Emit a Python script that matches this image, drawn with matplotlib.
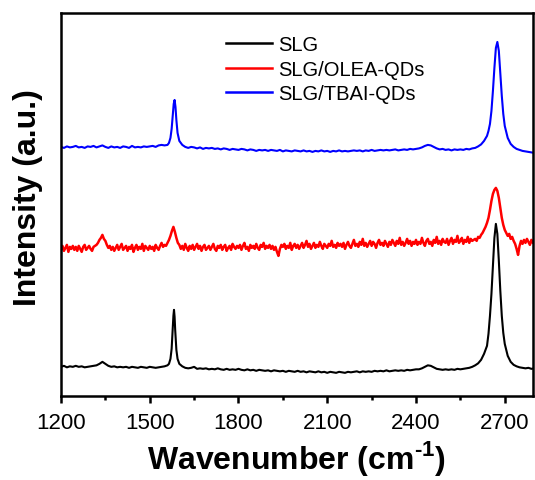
import matplotlib
matplotlib.use("Agg")
import matplotlib.pyplot as plt
from matplotlib.ticker import MultipleLocator


# ============================================================
# Spectra (offset-stacked, arbitrary units)
# ============================================================

SERIES_LABELS = ["SLG", "SLG/OLEA-QDs", "SLG/TBAI-QDs"]
SERIES_COLORS = ["black", "red", "blue"]
SERIES_WIDTHS = [1.5, 1.8, 1.5]

# --- SLG (black) ---
SLG_X = (list(range(1200, 1561, 10))
         + [1565, 1570, 1574, 1578, 1580, 1582, 1584, 1586, 1590, 1594]
         + list(range(1600, 2641, 10))
         + [2645, 2650, 2655, 2660, 2665, 2670, 2675, 2680, 2685, 2690, 2695]
         + list(range(2700, 2801, 10)))
SLG_Y = [
    # 1200 - 1560
    29, 30, 28.5, 29.5, 29, 30, 29, 29.5, 28.5, 29,
    29.5, 30, 30.5, 32, 34, 32, 30, 29, 29.5, 28.5,
    29, 28.5, 29, 28, 29, 28.5, 28, 29, 28.5, 28,
    29, 28.5, 28, 28.5, 29, 29.5, 30.5,
    # G band
    32, 37, 47, 68, 80, 86, 79, 66, 46, 37,
    # 1600 - 2640
    32, 29.5, 28, 27.5, 28, 29, 27, 27.5, 27, 27.5,
    26.5, 27, 26.5, 27.5, 26.5, 26, 27, 26, 26.5, 26,
    27, 26, 25.5, 26.5, 25.5, 26, 25, 26, 25.5, 25,
    25.5, 24.5, 25.5, 25, 24.5, 25, 24, 25, 24.5, 24,
    25, 24, 24.5, 23.5, 24.5, 24, 23.5, 24.5, 23.5, 24,
    23, 24, 23.5, 23, 24, 23.5, 23, 24, 23.5, 24,
    24.5, 23.5, 24.5, 24, 24.5, 24, 25, 24.5, 25, 24.5,
    25.5, 24.5, 25, 25.5, 25, 25.5, 25, 26, 25.5, 26,
    26.5, 26.5, 27.5, 29, 30.5, 30, 28.5, 27, 26.5, 26,
    26.5, 26, 26.5, 26, 27, 26.5, 27, 27.5, 28, 29,
    30.5, 32.5, 36, 42, 50,
    # 2D band
    62, 80, 102, 130, 158, 172, 162, 135, 105, 80, 63,
    # 2700 - 2800
    52, 40, 34, 31, 29.5, 28.5, 28, 27.5, 28, 27, 27.5,
]

# --- SLG/OLEA-QDs (red), one value every 5 cm-1, rows of 50 cm-1 ---
OLEA_X = list(range(1200, 2801, 5))
OLEA_Y = [
    146, 150, 145, 148, 151, 144, 149, 147, 150, 146,  # 1200
    149, 145, 150, 147, 144, 149, 151, 146, 148, 150,  # 1250
    147, 145, 149, 150, 151, 153, 156, 158, 161, 157,  # 1300
    155, 151, 148, 150, 146, 149, 145, 148, 151, 146,  # 1350
    149, 152, 146, 148, 150, 145, 149, 147, 151, 144,  # 1400
    148, 151, 146, 149, 147, 152, 145, 150, 148, 146,  # 1450
    150, 147, 149, 145, 151, 148, 146, 150, 153, 149,  # 1500
    151, 150, 153, 156, 160, 165, 169, 164, 158, 153,  # 1550
    151, 147, 150, 146, 152, 148, 145, 150, 147, 151,  # 1600
    146, 149, 152, 147, 150, 145, 149, 151, 146, 148,  # 1650
    150, 146, 149, 152, 147, 145, 150, 148, 151, 146,  # 1700
    149, 151, 145, 148, 150, 146, 152, 149, 147, 150,  # 1750
    148, 151, 146, 150, 153, 147, 149, 145, 151, 148,  # 1800
    150, 147, 152, 148, 146, 151, 149, 153, 147, 150,  # 1850
    148, 151, 147, 150, 146, 149, 144, 140, 147, 151,  # 1900
    149, 152, 147, 150, 148, 153, 146, 150, 152, 148,  # 1950
    151, 147, 150, 153, 148, 151, 155, 149, 152, 147,  # 2000
    150, 153, 148, 151, 149, 154, 150, 147, 152, 150,  # 2050
    148, 152, 150, 155, 149, 151, 148, 153, 150, 152,  # 2100
    149, 153, 147, 151, 154, 150, 148, 152, 156, 150,  # 2150
    152, 149, 154, 151, 157, 150, 153, 149, 152, 155,  # 2200
    150, 154, 152, 148, 153, 156, 151, 153, 150, 155,  # 2250
    152, 149, 154, 151, 156, 153, 150, 155, 152, 158,  # 2300
    151, 154, 150, 153, 157, 152, 155, 150, 154, 152,  # 2350
    156, 151, 154, 152, 158, 153, 150, 155, 157, 152,  # 2400
    154, 150, 156, 153, 159, 152, 155, 151, 157, 154,  # 2450
    153, 157, 151, 155, 158, 152, 156, 154, 160, 153,  # 2500
    155, 158, 152, 156, 154, 159, 153, 157, 155, 156,  # 2550
    157, 155, 159, 158, 161, 163, 166, 169, 173, 178,  # 2600
    186, 195, 202, 206, 208, 205, 198, 188, 178, 171,  # 2650
    166, 163, 160, 162, 157, 159, 155, 152, 147, 141,  # 2700
    150, 155, 152, 156, 153, 157, 154, 151, 156, 153,  # 2750
    155,                                               # 2800
]

# --- SLG/TBAI-QDs (blue) ---
TBAI_X = (list(range(1200, 1561, 10))
          + [1565, 1570, 1574, 1578, 1581, 1584, 1587, 1590, 1594]
          + list(range(1600, 2641, 10))
          + [2645, 2650, 2655, 2660, 2665, 2670, 2675, 2680, 2685, 2690, 2695]
          + list(range(2700, 2801, 10)))
TBAI_Y = [
    # 1200 - 1560
    249, 248, 249.5, 248.5, 249, 250, 248.5, 249, 248, 249.5,
    249, 250, 248.5, 249.5, 250.5, 249, 248, 249.5, 248.5, 249,
    248, 249.5, 249, 248, 250, 248.5, 249, 248.5, 249.5, 249,
    249.5, 250, 249, 250.5, 251, 250.5, 251,
    # G band
    253, 258, 267, 281, 292, 296, 289, 276, 263,
    # 1600 - 2640
    255, 251, 249, 248, 249, 248.5, 247.5, 248.5, 247, 248,
    247.5, 248, 247, 247.5, 246.5, 247.5, 247, 246, 247, 246.5,
    246, 247, 246.5, 245.5, 246.5, 246, 245, 246, 245.5, 246,
    245, 246, 245.5, 245, 246, 244.5, 245.5, 245, 244.5, 245.5,
    245, 244.5, 245.5, 244.5, 245, 244, 245, 244.5, 245.5, 244.5,
    245, 244, 245, 244.5, 245.5, 244.5, 245, 244.5, 245, 245.5,
    245, 245.5, 244.5, 245.5, 245, 246, 245, 245.5, 246, 245.5,
    246, 245.5, 246, 246.5, 245.5, 246, 246.5, 246, 247, 246.5,
    247, 247.5, 248.5, 250, 251, 250.5, 249, 247.5, 246.5, 247,
    246, 246.5, 245.5, 246.5, 246, 246.5, 246, 247, 246.5, 247.5,
    248, 249.5, 251.5, 255, 260,
    # 2D band
    265, 272, 285, 305, 328, 348, 354, 345, 322, 300, 282,
    # 2700 - 2800
    270, 258, 252, 249, 247, 246, 245, 244.5, 244, 243.5, 243,
]

X_MIN, X_MAX = 1200, 2795
Y_MIN, Y_MAX = 0, 383


def main():
    plt.rcParams["font.family"] = ["Liberation Sans", "DejaVu Sans"]
    plt.rcParams["mathtext.fontset"] = "custom"
    plt.rcParams["mathtext.rm"] = "Liberation Sans:bold"
    plt.rcParams["mathtext.bf"] = "Liberation Sans:bold"

    fig = plt.figure(figsize=(5.35, 4.81), dpi=100)
    ax = fig.add_axes([0.114, 0.175, 0.882, 0.796])

    series = [(SLG_X, SLG_Y), (OLEA_X, OLEA_Y), (TBAI_X, TBAI_Y)]
    for (xs, ys), label, color, lw in zip(series, SERIES_LABELS,
                                          SERIES_COLORS, SERIES_WIDTHS):
        assert len(xs) == len(ys), label
        ax.plot(xs, ys, color=color, lw=lw, label=label)

    ax.set_xlim(X_MIN, X_MAX)
    ax.set_ylim(Y_MIN, Y_MAX)

    ax.xaxis.set_major_locator(MultipleLocator(300))
    ax.xaxis.set_minor_locator(MultipleLocator(150))
    ax.tick_params(axis="x", which="major", direction="out", length=5,
                   width=1.8, labelsize=16, pad=7)
    ax.tick_params(axis="x", which="minor", direction="out", length=3,
                   width=1.8)
    ax.set_yticks([])

    for spine in ax.spines.values():
        spine.set_linewidth(1.8)

    ax.set_xlabel(r"Wavenumber (cm$^{\text{-1}}$)", fontsize=23,
                  fontweight="bold", labelpad=3)
    ax.set_ylabel("Intensity (a.u.)", fontsize=23, fontweight="bold")
    ax.yaxis.set_label_coords(-0.038, 0.52)

    leg = ax.legend(loc="upper left", bbox_to_anchor=(0.349, 0.942),
                    frameon=False, fontsize=14.5, handlelength=2.3,
                    handletextpad=0.3, labelspacing=0.28, borderpad=0,
                    borderaxespad=0)
    for handle in leg.get_lines():
        handle.set_linewidth(1.8)

    fig.savefig("out.png", dpi=100)
    plt.close(fig)


if __name__ == "__main__":
    main()
